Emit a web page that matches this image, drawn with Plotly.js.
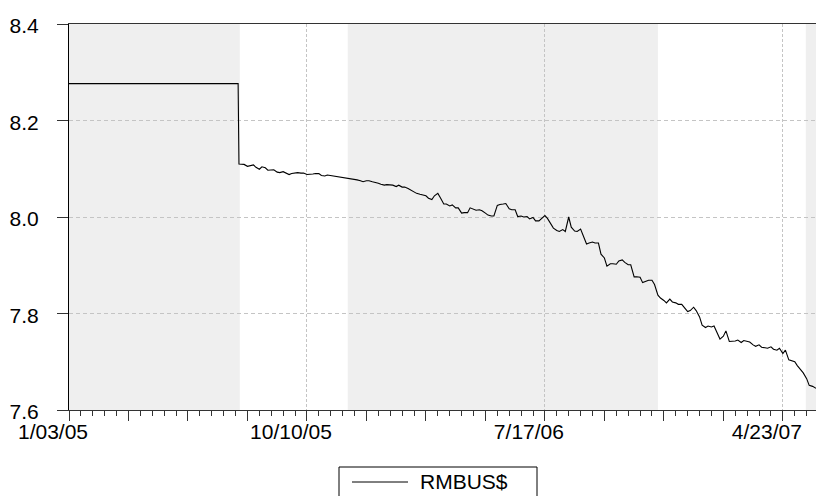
<!DOCTYPE html>
<html>
<head>
<meta charset="utf-8">
<script src="https://cdn.plot.ly/plotly-3.0.1.min.js"></script>
<style>html,body{margin:0;padding:0;background:#fff;}#chart{width:816px;height:496px;}</style>
</head>
<body>
<div id="chart"></div>
<script>
// ---- data ----
const seriesName = 'RMBUS$';
const dates = [
'2005-01-03','2005-07-21','2005-07-22','2005-07-25','2005-07-28','2005-08-01','2005-08-04','2005-08-08','2005-08-11','2005-08-15','2005-08-18',
'2005-08-22','2005-08-25','2005-08-29','2005-09-01','2005-09-05','2005-09-08','2005-09-12','2005-09-15','2005-09-19','2005-09-22',
'2005-09-26','2005-09-29','2005-10-03','2005-10-06','2005-10-10','2005-10-13','2005-10-17','2005-10-20','2005-10-24','2005-10-27',
'2005-10-31','2005-11-03','2005-11-07','2005-11-10','2005-11-14','2005-11-17','2005-11-21','2005-11-24','2005-11-28','2005-12-01',
'2005-12-05','2005-12-08','2005-12-12','2005-12-15','2005-12-19','2005-12-22','2005-12-26','2005-12-29','2006-01-02','2006-01-05',
'2006-01-09','2006-01-12','2006-01-16','2006-01-19','2006-01-23','2006-01-26','2006-01-30','2006-02-02','2006-02-06','2006-02-09',
'2006-02-13','2006-02-16','2006-02-20','2006-02-23','2006-02-27','2006-03-02','2006-03-06','2006-03-09','2006-03-13','2006-03-16',
'2006-03-20','2006-03-23','2006-03-27','2006-03-30','2006-04-03','2006-04-06','2006-04-10','2006-04-13','2006-04-17','2006-04-20',
'2006-04-24','2006-04-27','2006-05-01','2006-05-04','2006-05-08','2006-05-11','2006-05-15','2006-05-18','2006-05-22','2006-05-25',
'2006-05-29','2006-06-01','2006-06-05','2006-06-08','2006-06-12','2006-06-15','2006-06-19','2006-06-22','2006-06-26','2006-06-29',
'2006-07-03','2006-07-06','2006-07-10','2006-07-13','2006-07-17','2006-07-20','2006-07-24','2006-07-27','2006-07-31','2006-08-03',
'2006-08-07','2006-08-10','2006-08-14','2006-08-17','2006-08-21','2006-08-24','2006-08-28','2006-08-31','2006-09-04','2006-09-07',
'2006-09-11','2006-09-14','2006-09-18','2006-09-21','2006-09-25','2006-09-28','2006-10-02','2006-10-05','2006-10-09','2006-10-12',
'2006-10-16','2006-10-19','2006-10-23','2006-10-26','2006-10-30','2006-11-02','2006-11-06','2006-11-09','2006-11-13','2006-11-16',
'2006-11-20','2006-11-23','2006-11-27','2006-11-30','2006-12-04','2006-12-07','2006-12-11','2006-12-14','2006-12-18','2006-12-21',
'2006-12-25','2006-12-28','2007-01-01','2007-01-04','2007-01-08','2007-01-11','2007-01-15','2007-01-18','2007-01-22','2007-01-25',
'2007-01-29','2007-02-01','2007-02-05','2007-02-08','2007-02-12','2007-02-15','2007-02-19','2007-02-22','2007-02-26','2007-03-01',
'2007-03-05','2007-03-08','2007-03-12','2007-03-15','2007-03-19','2007-03-22','2007-03-26','2007-03-29','2007-04-02','2007-04-05',
'2007-04-09','2007-04-12','2007-04-16','2007-04-19','2007-04-23','2007-04-26','2007-04-30','2007-05-03','2007-05-07','2007-05-10',
'2007-05-14','2007-05-17','2007-05-21','2007-05-24','2007-05-28','2007-05-31','2007-06-01'
];
const rates = [
8.2765,8.2765,8.110,8.110,8.109,8.105,8.106,8.108,8.103,8.099,8.104,
8.102,8.097,8.098,8.098,8.093,8.092,8.094,8.091,8.088,8.090,
8.091,8.092,8.091,8.091,8.088,8.088,8.089,8.090,8.090,8.086,
8.085,8.087,8.086,8.085,8.084,8.083,8.082,8.081,8.080,8.079,
8.078,8.077,8.075,8.073,8.075,8.075,8.073,8.072,8.070,8.068,
8.066,8.067,8.067,8.066,8.063,8.066,8.062,8.062,8.059,8.056,
8.051,8.049,8.047,8.046,8.044,8.039,8.036,8.044,8.049,8.040,
8.027,8.027,8.023,8.025,8.019,8.019,8.008,8.009,8.009,8.019,
8.017,8.014,8.015,8.013,8.008,8.004,8.002,8.002,8.024,8.026,
8.027,8.028,8.017,8.015,8.015,8.001,8.002,8.000,8.001,7.996,
7.999,7.992,7.992,7.996,8.003,7.997,7.986,7.977,7.972,7.970,
7.974,7.970,8.000,7.979,7.971,7.970,7.975,7.960,7.944,7.946,
7.948,7.946,7.946,7.923,7.915,7.898,7.903,7.903,7.902,7.909,
7.911,7.906,7.901,7.901,7.876,7.876,7.875,7.864,7.866,7.869,
7.869,7.860,7.838,7.832,7.827,7.822,7.830,7.824,7.822,7.819,
7.819,7.813,7.804,7.806,7.813,7.806,7.793,7.776,7.771,7.774,
7.772,7.774,7.760,7.747,7.753,7.764,7.742,7.742,7.743,7.745,
7.740,7.744,7.743,7.741,7.735,7.732,7.735,7.730,7.729,7.728,
7.731,7.726,7.724,7.728,7.717,7.724,7.704,7.702,7.700,7.692,
7.683,7.677,7.665,7.651,7.649,7.646,7.645
];
const shadeStarts = ['2005-01-03','2005-11-27','2007-05-20'];
const shadeEnds   = ['2005-07-23','2006-11-27','2007-06-01'];
const majorTickDates = ['2005-01-03','2005-03-14','2005-05-23','2005-08-01','2005-10-10','2005-12-19','2006-02-27','2006-05-08','2006-07-17','2006-09-25','2006-12-04','2007-02-12','2007-04-23'];
const majorTickText  = ['1/03/05','','','','10/10/05','','','','7/17/06','','','','4/23/07'];
const labelDates = ['2005-01-03','2005-10-10','2006-07-17','2007-04-23'];
const yTicks = [7.6, 7.8, 8.0, 8.2, 8.4];

// ---- layout helpers ----
const W = 816, H = 496, L = 69, R = 0, T = 24, B = 86;
const pw = W - L - R, ph = H - T - B;
const px = x => (x - L) / pw;
const py = y => (H - B - y) / ph;
const DAY = 86400000;
const font = 'Liberation Sans, Arial, Helvetica, sans-serif';
const xRange = [dates[0], dates[dates.length - 1]];

const traces = [
  {x: dates, y: rates, type: 'scatter', mode: 'lines', name: seriesName,
   line: {color: '#000000', width: 1.1}, showlegend: false, hoverinfo: 'x+y'},
  {x: labelDates, y: labelDates.map(() => null), xaxis: 'x2', yaxis: 'y',
   type: 'scatter', mode: 'lines', showlegend: false, hoverinfo: 'skip'}
];

const shapes = shadeStarts.map((s, i) => ({
  type: 'rect', xref: 'x', yref: 'paper', x0: s, x1: shadeEnds[i], y0: 0, y1: 1,
  fillcolor: '#efefef', line: {width: 0}, layer: 'below'
}));
// legend box + sample line
shapes.push({type: 'rect', xref: 'paper', yref: 'paper', x0: px(339), x1: px(537), y0: py(500), y1: py(467),
  line: {color: '#000', width: 1}, fillcolor: 'rgba(0,0,0,0)', layer: 'above'});
shapes.push({type: 'line', xref: 'paper', yref: 'paper', x0: px(352), x1: px(408), y0: py(482), y1: py(482),
  line: {color: '#000', width: 1}, layer: 'above'});

const layout = {
  width: W, height: H,
  margin: {l: L, r: R, t: T, b: B, pad: 0},
  paper_bgcolor: '#ffffff', plot_bgcolor: '#ffffff',
  showlegend: false,
  font: {family: font, size: 21, color: '#000'},
  xaxis: {
    type: 'date', range: xRange, tickmode: 'array', tickvals: majorTickDates, ticktext: majorTickText,
    ticks: 'outside', ticklen: 10, tickwidth: 1, tickcolor: '#333',
    showgrid: false, showline: true, linecolor: '#333', linewidth: 1, mirror: true, zeroline: false,
    ticklabelshift: -16, ticklabelstandoff: -7,
    tickfont: {family: font, size: 21, color: '#000'},
    minor: {ticks: 'outside', ticklen: 5, tickwidth: 1, tickcolor: '#333', tickmode: 'linear',
            tick0: dates[0], dtick: 14 * DAY, showgrid: false},
    fixedrange: true
  },
  xaxis2: {
    type: 'date', range: xRange, overlaying: 'x', anchor: 'y', tickmode: 'array', tickvals: labelDates,
    showticklabels: false, ticks: '', showgrid: true, gridcolor: '#c4c4c4', gridwidth: 1, griddash: '3px,2px',
    showline: false, zeroline: false, fixedrange: true
  },
  yaxis: {
    range: [yTicks[0], yTicks[yTicks.length - 1]], tickmode: 'array', tickvals: yTicks, tickformat: '.1f',
    ticks: 'outside', ticklen: 11, tickwidth: 1, tickcolor: '#333',
    showgrid: true, gridcolor: '#c4c4c4', gridwidth: 1, griddash: '4px,3px',
    showline: true, linecolor: '#000', linewidth: 1, zeroline: false,
    ticklabelstandoff: 14, ticklabelshift: 2,
    tickfont: {family: font, size: 21, color: '#000'}, fixedrange: true
  },
  shapes: shapes,
  annotations: [{
    xref: 'paper', yref: 'paper', x: px(418), y: py(481), xanchor: 'left', yanchor: 'middle',
    text: seriesName, showarrow: false, font: {family: font, size: 21, color: '#000'}
  }]
};

Plotly.newPlot('chart', traces, layout, {displayModeBar: false, staticPlot: true});
</script>
</body>
</html>
